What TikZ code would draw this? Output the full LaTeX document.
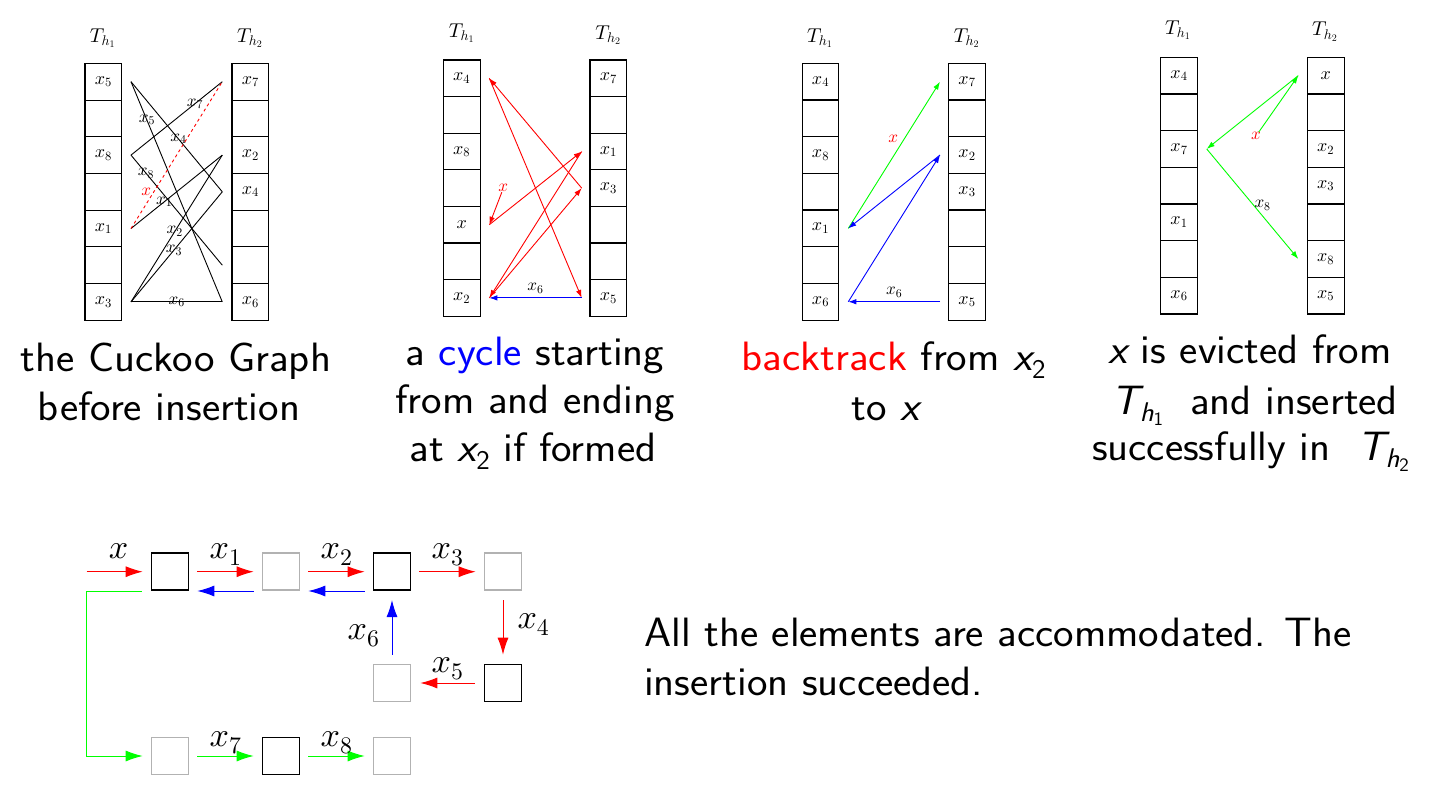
\documentclass[tikz,border=0pt]{standalone}
\DeclareFontFamily{OML}{cmm}{\skewchar\font'177}
\DeclareFontShape{OML}{cmm}{m}{it}{<->cmmi10}{}
\DeclareFontShape{OT1}{cmr}{m}{n}{<->cmr10}{}
\usetikzlibrary{arrows.meta}
\newcommand\sx{{\slshape x}}
\newcommand\sxsub[1]{{\slshape x}\raisebox{-7.5pt}{\fontsize{27}{29}\selectfont #1}}
\newcommand\Tsub[1]{{\slshape T}\raisebox{-7pt}{\fontsize{27}{29}\selectfont{\slshape h}\raisebox{-4pt}{\fontsize{19}{21}\selectfont #1}}}
\newcommand\wide[1]{\scalebox{1.06}[1]{#1}}
\begin{document}
\begin{tikzpicture}[x=1pt,y=-1pt,
  cell/.style={draw,line width=1.1pt,minimum width=36.7pt,minimum height=36.7pt,inner sep=0pt,font=\fontsize{18}{20}\selectfont},
  tlab/.style={font=\fontsize{20}{22}\selectfont},
  elab/.style={font=\fontsize{17}{19}\selectfont,inner sep=0pt,text=black},
  edgeline/.style={line width=0.9pt},
  pa/.style={line width=0.9pt,-{Latex[length=8pt,width=5.5pt]}},
  bbox/.style={draw=black,line width=1.6pt,minimum size=37pt,inner sep=0pt},
  gbox/.style={draw=black!30,line width=1.6pt,minimum size=37pt,inner sep=0pt},
  ba/.style={line width=1pt,-{Latex[length=17pt,width=11pt]}},
  blab/.style={font=\fontsize{34}{36}\selectfont,inner sep=0pt,text=black},
  captxt/.style={font=\sffamily\fontsize{41}{48}\selectfont,anchor=base,inner sep=0pt},
]
\useasboundingbox (0,0) rectangle (1434,804);
\fill[white] (0,0) rectangle (1434,804);

% ---------- panel 1 ----------
\node[tlab] (aT1) at (102.7,38.3) {$T_{h_1}$};
\node[tlab] (aT2) at (250,38.3) {$T_{h_2}$};
\foreach \lab [count=\i from 0] in {{$x_5$},{},{$x_8$},{},{$x_1$},{},{$x_3$}} {
  \node[cell] (aL\i) at (103.3,{81.7+36.7*\i}) {\lab};
  \coordinate (aLp\i) at (131,{81.7+36.7*\i});
}
\foreach \lab [count=\i from 0] in {{$x_7$},{},{$x_2$},{$x_4$},{},{},{$x_6$}} {
  \node[cell] (aR\i) at (250.3,{81.7+36.7*\i}) {\lab};
  \coordinate (aRp\i) at (222.3,{81.7+36.7*\i});
}
\draw[edgeline] (aLp0) -- node[elab,pos=.174]{$x_5$} (aRp6);
\draw[edgeline] (aLp0) -- node[elab,pos=.52]{$x_4$} (aRp3);
\draw[edgeline] (aLp2) -- node[elab,pos=.70]{$x_7$} (aRp0);
\draw[edgeline] (aLp2) -- node[elab,pos=.165]{$x_8$} (aRp5);
\draw[edgeline] (aLp4) -- node[elab,pos=.365]{$x_1$} (aRp2);
\draw[edgeline,red,dashed] (aLp4) -- node[elab,text=red,pos=.19,xshift=-2pt,yshift=9pt]{$x$} (aRp0);
\draw[edgeline] (aLp6) -- node[elab,pos=.48]{$x_2$} (aRp2);
\draw[edgeline] (aLp6) -- node[elab,pos=.47]{$x_3$} (aRp3);
\draw[edgeline] (aLp6) -- node[elab,pos=.5]{$x_6$} (aRp6);

% ---------- panel 2 ----------
\node[tlab] (bT1) at (461.7,33.3) {$T_{h_1}$};
\node[tlab] (bT2) at (608.3,35) {$T_{h_2}$};
\foreach \lab [count=\i from 0] in {{$x_4$},{},{$x_8$},{},{$x$},{},{$x_2$}} {
  \node[cell] (bL\i) at (461.7,{78.3+36.6*\i}) {\lab};
  \coordinate (bLp\i) at (489.3,{78.3+36.6*\i});
}
\foreach \lab [count=\i from 0] in {{$x_7$},{},{$x_1$},{$x_3$},{},{},{$x_5$}} {
  \node[cell] (bR\i) at (608.3,{78.3+36.6*\i}) {\lab};
  \coordinate (bRp\i) at (581.7,{78.3+36.6*\i});
}
\node[elab,text=red] (bx) at (503.3,188.3) {$x$};
\draw[pa,red] (bx) -- (bLp4);
\draw[pa,red] (bLp4) -- (bRp2);
\draw[pa,red] (bRp2) -- (bLp6);
\draw[pa,red] (bLp6) -- (bRp3);
\draw[pa,red] (bRp3) -- (bLp0);
\draw[pa,red] (bLp0) -- (bRp6);
\draw[pa,blue] (bRp6) -- node[elab,above=4pt]{$x_6$} (bLp6);

% ---------- panel 3 ----------
\node[tlab] (cT1) at (820,38.3) {$T_{h_1}$};
\node[tlab] (cT2) at (966.7,38.3) {$T_{h_2}$};
\foreach \lab [count=\i from 0] in {{$x_4$},{},{$x_8$},{},{$x_1$},{},{$x_6$}} {
  \node[cell] (cL\i) at (820.5,{81.7+36.67*\i}) {\lab};
  \coordinate (cLp\i) at (848.3,{81.7+36.67*\i});
}
\foreach \lab [count=\i from 0] in {{$x_7$},{},{$x_2$},{$x_3$},{},{},{$x_5$}} {
  \node[cell] (cR\i) at (967,{81.7+36.67*\i}) {\lab};
  \coordinate (cRp\i) at (940,{81.7+36.67*\i});
}
\draw[pa,green] (cLp4) -- node[elab,text=red,pos=.61,xshift=-11pt]{$x$} (cRp0);
\draw[pa,blue] (cRp2) -- (cLp4);
\draw[pa,blue] (cLp6) -- (cRp2);
\draw[pa,blue] (cRp6) -- node[elab,above=4pt]{$x_6$} (cLp6);

% ---------- panel 4 ----------
\node[tlab] (dT1) at (1178,30) {$T_{h_1}$};
\node[tlab] (dT2) at (1325,31.7) {$T_{h_2}$};
\foreach \lab [count=\i from 0] in {{$x_4$},{},{$x_7$},{},{$x_1$},{},{$x_6$}} {
  \node[cell] (dL\i) at (1179,{75.6+36.67*\i}) {\lab};
  \coordinate (dLp\i) at (1206.7,{75.6+36.67*\i});
}
\foreach \lab [count=\i from 0] in {{$x$},{},{$x_2$},{$x_3$},{},{$x_8$},{$x_5$}} {
  \node[cell] (dR\i) at (1325.7,{75.6+36.67*\i}) {\lab};
  \coordinate (dRp\i) at (1298.3,{75.6+36.67*\i});
}
\node[elab,text=red] (dx) at (1256,136) {$x$};
\draw[pa,green] (dx) -- (dRp0);
\draw[pa,green] (dRp0) -- (dLp2);
\draw[pa,green] (dLp2) -- node[elab,pos=.61,yshift=11pt]{$x_8$} (dRp5);

% ---------- captions ----------
\node[captxt] (c1a) at (176,371.7) {\wide{the Cuckoo Graph}};
\node[captxt] (c1b) at (169,420) {\wide{before insertion}};
\node[captxt] (c2a) at (535,365) {\wide{a \textcolor{blue}{cycle} starting}};
\node[captxt] (c2b) at (535,413.3) {\wide{from and ending}};
\node[captxt] (c2c) at (533,461.7) {\wide{at \sxsub{2} if formed}};
\node[captxt] (c3a) at (893.7,370.7) {\wide{\textcolor{red}{backtrack} from \sxsub{2}}};
\node[captxt] (c3b) at (885.5,420) {\wide{to \sx}};
\node[captxt] (c4a) at (1250,363.3) {\wide{\sx{} is evicted from}};
\node[captxt] (c4b) at (1255,414) {\wide{\Tsub{1} \ and inserted}};
\node[captxt] (c4c) at (1250.5,460) {\wide{successfully in \ \Tsub{2}}};

% ---------- bottom diagram ----------
\node[bbox] (e1) at (170,571.7) {};
\node[gbox] (e2) at (281,571.7) {};
\node[bbox] (e3) at (392,571.7) {};
\node[gbox] (e4) at (503,571.7) {};
\node[gbox] (e5) at (392,683) {};
\node[bbox] (e6) at (503,683) {};
\node[gbox] (e7) at (170,756) {};
\node[bbox] (e8) at (281,756) {};
\node[gbox] (e9) at (392,756) {};
\coordinate (ein) at (86.7,571.7);
\coordinate (gcorner) at (86.7,756);

\draw[ba,red,shorten >=8pt] (ein) -- node[blab,anchor=base,yshift=13.4pt]{$x$} (e1);
\draw[ba,red,shorten <=8pt,shorten >=8pt] (e1) -- node[blab,anchor=base,yshift=13.4pt]{$x_1$} (e2);
\draw[ba,blue,shorten <=8pt,shorten >=8pt] (e2.south west) -- (e1.south east);
\draw[ba,red,shorten <=8pt,shorten >=8pt] (e2) -- node[blab,anchor=base,yshift=13.4pt]{$x_2$} (e3);
\draw[ba,blue,shorten <=8pt,shorten >=8pt] (e3.south west) -- (e2.south east);
\draw[ba,red,shorten <=8pt,shorten >=8pt] (e3) -- node[blab,anchor=base,yshift=13.4pt]{$x_3$} (e4);
\draw[ba,red,shorten <=9pt,shorten >=9pt] (e4) -- node[blab,anchor=west,xshift=14pt,yshift=3pt]{$x_4$} (e6);
\draw[ba,red,shorten <=9pt,shorten >=9pt] (e6) -- node[blab,anchor=base,yshift=10.6pt]{$x_5$} (e5);
\draw[ba,blue,shorten <=9pt,shorten >=9pt] (e5) -- node[blab,anchor=east,xshift=-12pt,yshift=-8pt]{$x_6$} (e3);
\draw[ba,green,shorten >=8pt] ([xshift=-9pt]e1.south west) -| (gcorner) -- (e7);
\draw[ba,green,shorten <=8pt,shorten >=8pt] (e7) -- node[blab,anchor=base,yshift=9.4pt]{$x_7$} (e8);
\draw[ba,green,shorten <=8pt,shorten >=8pt] (e8) -- node[blab,anchor=base,yshift=9.4pt]{$x_8$} (e9);

% ---------- bottom text ----------
\node[anchor=base west,inner sep=0pt,font=\sffamily\fontsize{41}{48}\selectfont] (t1) at (644,646.7) {\wide{All the elements are accommodated. The}};
\node[anchor=base west,inner sep=0pt,font=\sffamily\fontsize{41}{48}\selectfont] (t2) at (644,695) {\wide{insertion succeeded.}};
\end{tikzpicture}
\end{document}
